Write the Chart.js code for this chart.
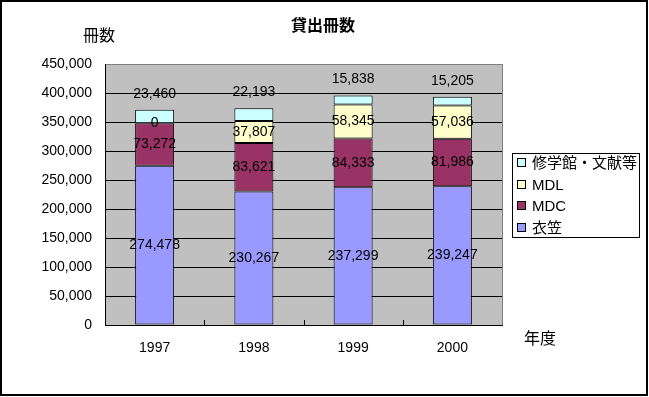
<!DOCTYPE html>
<html><head><meta charset="utf-8">
<script src="https://cdn.jsdelivr.net/npm/chart.js@4"></script>
<style>html,body{margin:0;padding:0;background:#fff;}canvas{display:block}</style>
</head><body>
<canvas id="c" width="649" height="397"></canvas>
<script>
const categories = ['1997', '1998', '1999', '2000'];
const kinugasa = [274478, 230267, 237299, 239247];
const mdc = [73272, 83621, 84333, 81986];
const mdl = [0, 37807, 58345, 57036];
const shugakukan = [23460, 22193, 15838, 15205];
const seriesNames = ['衣笠', 'MDC', 'MDL', '修学館・文献等'];
const seriesColors = ['#9999FF', '#993366', '#FFFFCC', '#CCFFFF'];
const yMax = 450000;
const yStep = 50000;
const titleText = '貸出冊数';
const yTitle = '冊数';
const xTitle = '年度';

const FONT = '"Liberation Sans", "Noto Sans CJK JP", sans-serif';
const CJK = '"Noto Sans CJK JP", "Liberation Sans", sans-serif';
const fmt = v => v.toLocaleString('en-US');

const decor = {
  id: 'decor',
  beforeDraw(chart) {
    const ctx = chart.ctx, a = chart.chartArea;
    ctx.save();
    ctx.fillStyle = '#fff';
    ctx.fillRect(0, 0, chart.width, chart.height);
    ctx.fillStyle = '#C0C0C0';
    ctx.fillRect(a.left, a.top, a.right - a.left, a.bottom - a.top);
    ctx.restore();
  },
  afterDraw(chart) {
    const ctx = chart.ctx, a = chart.chartArea;
    const xs = chart.scales.x;
    ctx.save();
    // right border of plot
    ctx.strokeStyle = '#808080'; ctx.lineWidth = 1;
    ctx.beginPath(); ctx.moveTo(Math.round(a.right) + 0.5, a.top); ctx.lineTo(Math.round(a.right) + 0.5, a.bottom); ctx.stroke();
    // x tick marks at category boundaries
    ctx.strokeStyle = '#000';
    for (let i = 0; i < categories.length - 1; i++) {
      const bx = Math.round((xs.getPixelForValue(i) + xs.getPixelForValue(i + 1)) / 2) + 0.5;
      ctx.beginPath(); ctx.moveTo(bx, a.bottom); ctx.lineTo(bx, a.bottom - 5); ctx.stroke();
    }
    // data labels
    ctx.fillStyle = '#000';
    ctx.font = '14px ' + FONT;
    ctx.textAlign = 'center'; ctx.textBaseline = 'middle';
    chart.data.datasets.forEach((ds, di) => {
      const meta = chart.getDatasetMeta(di);
      meta.data.forEach((el, i) => {
        const v = ds.data[i];
        let y = (el.y + el.base) / 2;
        if (di === 3) y = el.y - 16;
        ctx.fillText(fmt(v), el.x, y);
      });
    });
    // titles
    ctx.font = 'bold 16px ' + CJK;
    ctx.fillText(titleText, 323, 25);
    ctx.font = '16px ' + CJK;
    ctx.fillText(yTitle, 99, 35);
    ctx.fillText(xTitle, 540, 338);
    // legend
    const lx = 512, ly = 153, lw = 127, lh = 84;
    ctx.fillStyle = '#fff';
    ctx.fillRect(lx, ly, lw, lh);
    ctx.strokeStyle = '#000'; ctx.lineWidth = 1;
    ctx.strokeRect(lx + 0.5, ly + 0.5, lw, lh);
    ctx.textAlign = 'left';
    ctx.font = '15px ' + FONT;
    for (let r = 0; r < 4; r++) {
      const di = 3 - r;
      const cy = Math.round(163 + r * 21.7);
      ctx.fillStyle = seriesColors[di];
      ctx.fillRect(517.5, cy - 4.5, 8, 8);
      ctx.strokeStyle = '#000';
      ctx.strokeRect(517.5, cy - 4.5, 8, 8);
      ctx.fillStyle = '#000';
      ctx.fillText(seriesNames[di], 532, cy + 1);
    }
    // outer border
    ctx.lineWidth = 2;
    ctx.strokeStyle = '#000';
    ctx.strokeRect(1, 1, 646, 394);
    ctx.restore();
  }
};

const datasets = [kinugasa, mdc, mdl, shugakukan].map((d, i) => ({
  label: seriesNames[i],
  data: d,
  backgroundColor: seriesColors[i],
  borderColor: '#000',
  borderWidth: 1,
  borderSkipped: false,
  categoryPercentage: 1,
  barPercentage: 0.393
}));

new Chart(document.getElementById('c'), {
  type: 'bar',
  data: { labels: categories, datasets },
  options: {
    responsive: false,
    animation: false,
    devicePixelRatio: 1,
    layout: { padding: { left: 0, right: 147, top: 64, bottom: 0 } },
    plugins: { legend: { display: false }, tooltip: { enabled: false } },
    scales: {
      x: {
        stacked: true,
        afterFit: s => { s.height = 72; },
        grid: { display: false, drawTicks: false },
        border: { display: true, color: '#000', width: 1 },
        ticks: { color: '#000', font: { size: 14, family: FONT }, padding: 15 }
      },
      y: {
        stacked: true,
        min: 0, max: yMax,
        afterFit: s => { s.width = 105; },
        grid: { drawTicks: false, color: c => (c.tick && c.tick.value === yMax) ? '#808080' : '#000' },
        border: { display: true, color: '#000', width: 1 },
        ticks: { stepSize: yStep, color: '#000', font: { size: 14, family: FONT }, padding: 13, callback: v => fmt(v) }
      }
    }
  },
  plugins: [decor]
});
</script>
</body></html>
